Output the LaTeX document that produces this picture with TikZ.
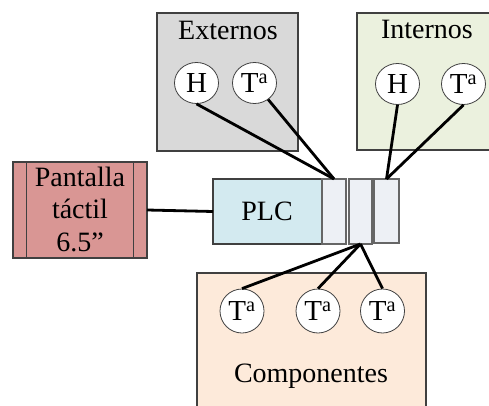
\documentclass[tikz,border=0pt]{standalone}
\usepackage{fontspec}
\setmainfont{Liberation Serif}
\usetikzlibrary{shapes.geometric}
\definecolor{extfill}{HTML}{D9D9D9}
\definecolor{intfill}{HTML}{EBF1DE}
\definecolor{pantfill}{HTML}{D99694}
\definecolor{plcfill}{HTML}{D3EAF0}
\definecolor{slotfill}{HTML}{EDF0F5}
\definecolor{compfill}{HTML}{FDEADA}
\definecolor{bordc}{HTML}{404040}
\begin{document}
\begin{tikzpicture}[x=1pt,y=-1pt,
  grp/.style={draw=bordc, line width=1.3pt, anchor=north west, inner sep=0pt, outer sep=0pt},
  lab/.style={font=\fontsize{28}{32}\selectfont, inner sep=0pt, anchor=base},
  sensor/.style={ellipse, draw=black!75, line width=0.8pt, fill=white, minimum width=44pt, minimum height=41pt, inner sep=0pt, font=\fontsize{29}{32}\selectfont},
  wire/.style={line width=2.8pt, black}]
\useasboundingbox (0,0) rectangle (489,406);
\clip (0,0) rectangle (489,406);

% group boxes
\node[grp, fill=extfill, minimum width=141pt, minimum height=138pt] (ext) at (157,13) {};
\node[grp, fill=intfill, minimum width=140pt, minimum height=137pt] (int) at (357,13) {};
\node[grp, fill=compfill, minimum width=229pt, minimum height=150pt] (comp) at (197,273) {};

\node[lab] (extlab) at (228,40) {Externos};
\node[lab] (intlab) at (427,39) {Internos};
\node[lab] (complab) at (311,382) {Componentes};

% pantalla
\node[grp, fill=pantfill, minimum width=134pt, minimum height=96pt] (pant) at (13,162) {};
\draw[bordc, line width=1pt] ([xshift=13pt]pant.north west) -- ([xshift=13pt]pant.south west);
\draw[bordc, line width=1pt] ([xshift=-14pt]pant.north east) -- ([xshift=-14pt]pant.south east);
\node[align=center, font=\fontsize{28}{32.5}\selectfont, inner sep=0pt] (pantlab) at (80,209) {Pantalla\\táctil\\6.5''};

% PLC
\node[grp, fill=plcfill, minimum width=109pt, minimum height=65pt] (plc) at (213,179) {};
\node[lab, anchor=center] (plclab) at (267,211) {PLC};
\node[grp, fill=slotfill, draw=black!60, minimum width=24pt, minimum height=65pt] (s1) at (322,179) {};
\node[grp, fill=slotfill, draw=black!60, minimum width=23pt, minimum height=65pt] (s2) at (349,179) {};
\node[grp, fill=slotfill, draw=black!60, minimum width=25pt, minimum height=64pt] (s3) at (374,179) {};

% sensors
\node[sensor] (eh) at (196.5,83) {H};
\node[sensor] (et) at (254.5,83) {T\textsuperscript{a}};
\node[sensor] (ih) at (397.5,84) {H};
\node[sensor] (it) at (463.5,84) {T\textsuperscript{a}};
\node[sensor, minimum height=44pt] (c1) at (242,311) {T\textsuperscript{a}};
\node[sensor, minimum height=44pt] (c2) at (318,311) {T\textsuperscript{a}};
\node[sensor, minimum height=44pt] (c3) at (382.5,311) {T\textsuperscript{a}};

% wires
\draw[wire] (pant.east) -- (plc.west);
\draw[wire] (eh.south) -- (s1.north);
\draw[wire] (et) -- (s1.north);
\draw[wire] (ih.south) -- (s3.north);
\draw[wire] (it.south) -- (s3.north);
\draw[wire] (s2.south) -- (c1.north);
\draw[wire] (s2.south) -- (c2.north);
\draw[wire] (s2.south) -- (c3.north);
\end{tikzpicture}
\end{document}
